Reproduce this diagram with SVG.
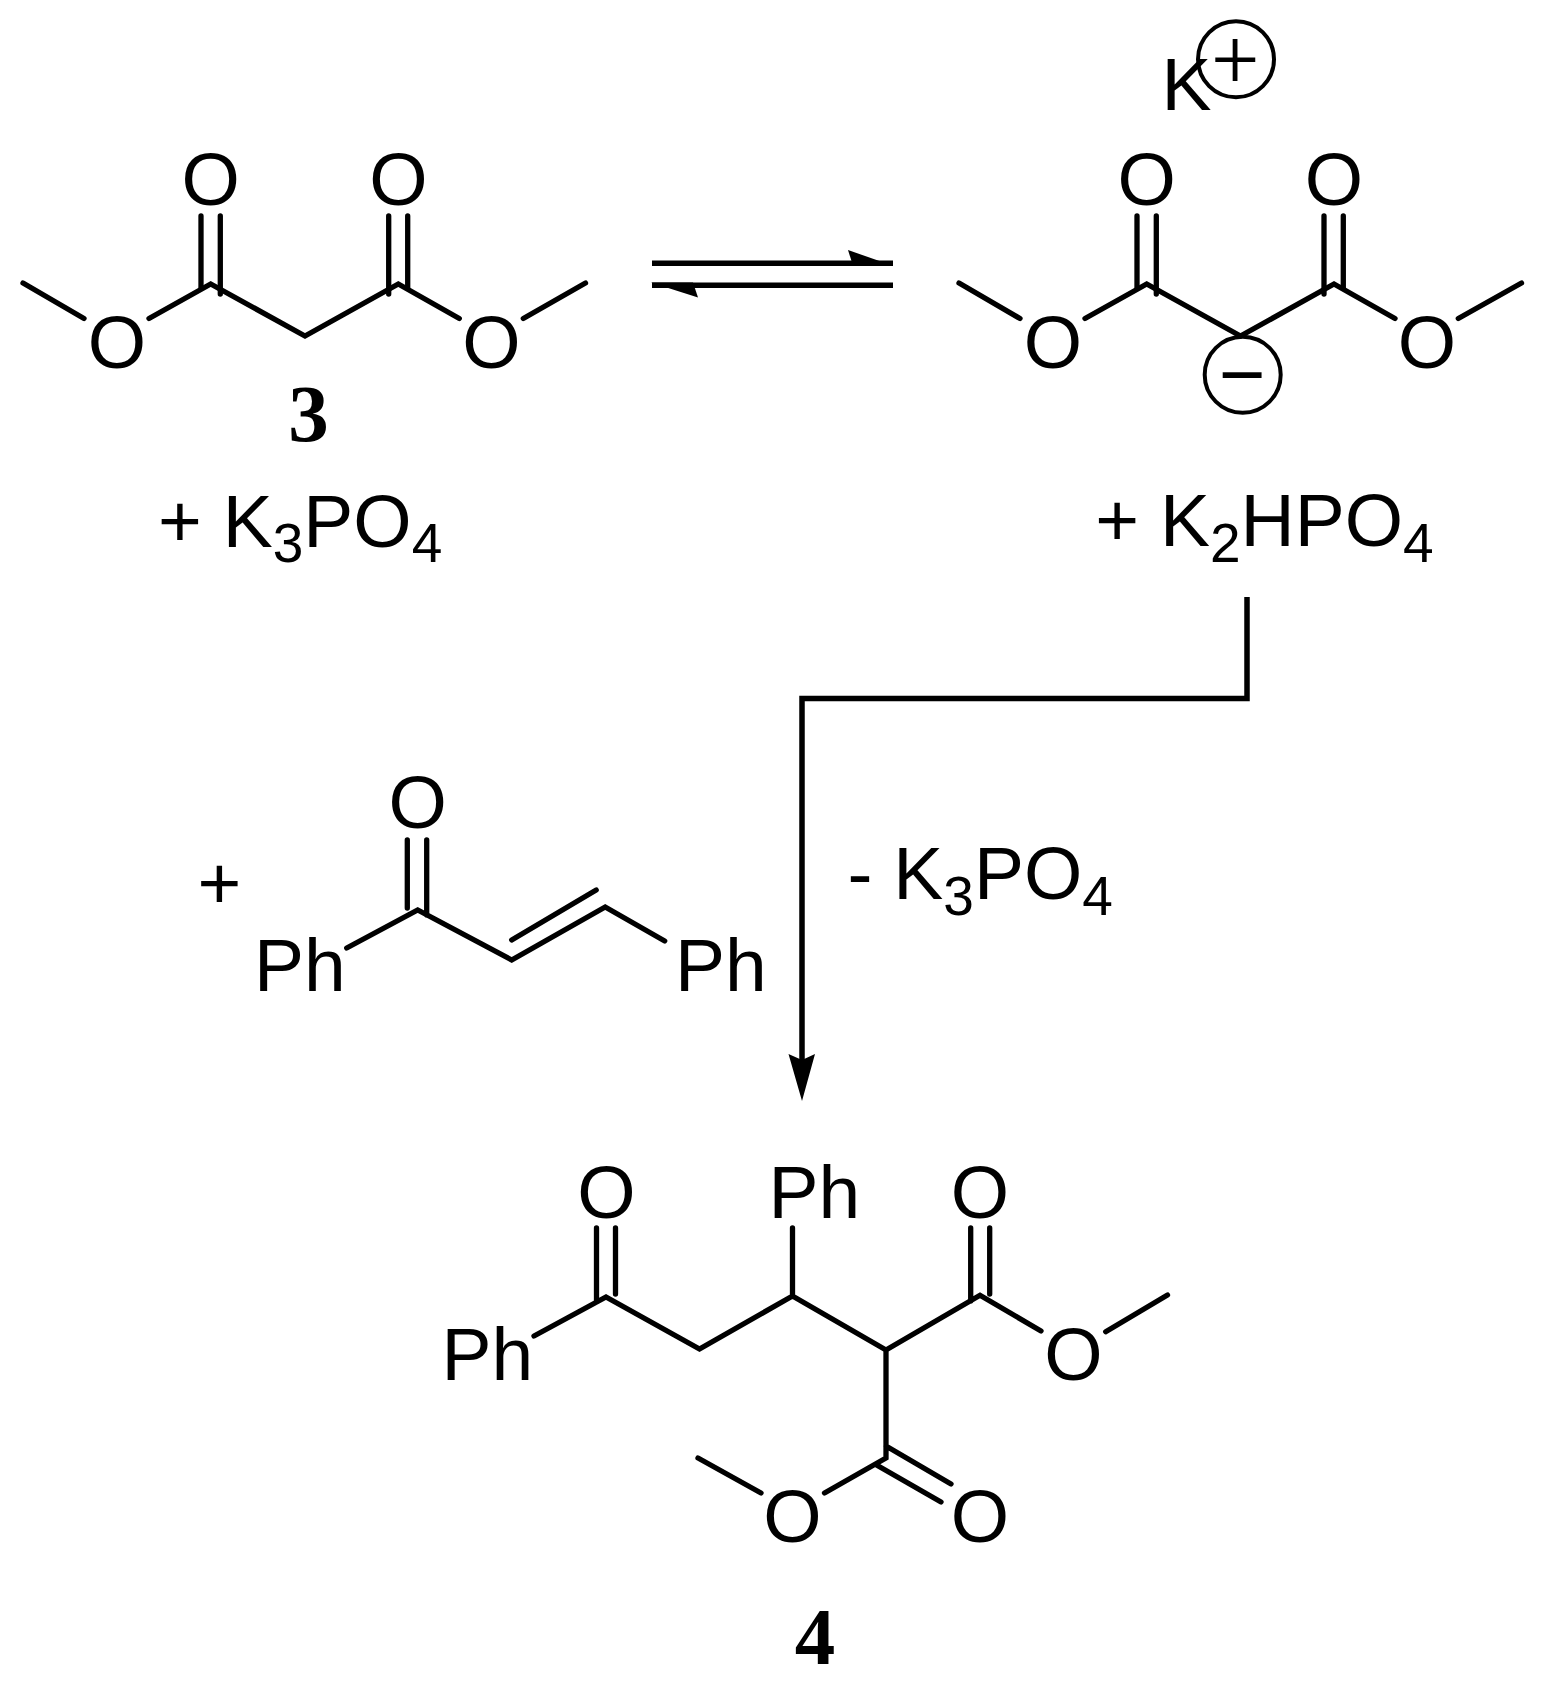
<svg xmlns="http://www.w3.org/2000/svg" width="1542" height="1687" viewBox="0 0 1542 1687">
<style>
.b{fill:none;stroke:#000;stroke-width:5.3;stroke-linecap:round;stroke-linejoin:miter}
.c{fill:none;stroke:#000;stroke-width:5.5;stroke-linejoin:miter}
.r{fill:none;stroke:#000;stroke-width:4}
.h{fill:#000;stroke:none}
text{font-family:"Liberation Sans",Arial,sans-serif;font-size:75px;fill:#000}
.m{text-anchor:middle}
.s{font-size:55px}
.n{font-family:"Liberation Serif","Times New Roman",serif;font-size:81px;font-weight:bold;text-anchor:middle}
</style>
<rect width="1542" height="1687" fill="#fff"/>
<g id="connectors">
<path class="c" d="M652 263.3H893"/>
<polygon class="h" points="893,265.8 848,250 853,265.8"/>
<path class="c" d="M652 285.3H893"/>
<polygon class="h" points="651,282.6 698,297.5 693,282.6"/>
<path class="c" d="M1247 597V698.5H802V1060"/>
<polygon class="h" points="802,1101 788.5,1054 802,1060 815,1054"/>
</g>
<g id="compound-3">
<path class="b" d="M23 283L84 318.5M149 318.5L210.7 284L305 336L398.3 284L459.3 318.5M523.3 318.5L585.5 283"/>
<path class="b" d="M201 216V288M220.3 216V294M388.7 216V294M407.7 216V288"/>
<text class="m" x="210.7" y="204.8">O</text>
<text class="m" x="398.3" y="204.8">O</text>
<text class="m" x="117" y="367.8">O</text>
<text class="m" x="491.5" y="367.8">O</text>
<text class="n" x="308.5" y="441">3</text>
</g>
<text id="reagent-k3po4" x="158" y="546.7">+ K<tspan class="s" dy="15.5">3</tspan><tspan dy="-15.5">PO</tspan><tspan class="s" dy="15.5">4</tspan></text>
<g id="enolate">
<path class="b" d="M959 283L1020 318.5M1085 318.5L1146.7 284L1240.5 336L1334 284L1395 318.5M1458.3 318.5L1521.5 283"/>
<path class="b" d="M1137 216V288M1156.3 216V294M1324 216V294M1343.3 216V288"/>
<text class="m" x="1146.7" y="204.8">O</text>
<text class="m" x="1333.8" y="204.8">O</text>
<text class="m" x="1053" y="367.8">O</text>
<text class="m" x="1427" y="367.8">O</text>
<circle class="r" cx="1242.7" cy="374.7" r="38"/>
<text class="m" x="1242.2" y="402" style="font-size:80px">−</text>
</g>
<g id="potassium">
<text x="1161.6" y="110">K</text>
<circle class="r" cx="1236" cy="59.3" r="38"/>
<text class="m" x="1235.5" y="86.7" style="font-size:82px;font-family:Roboto,sans-serif;font-weight:300">+</text>
</g>
<text id="reagent-k2hpo4" x="1095.3" y="546.4">+ K<tspan class="s" dy="15.5">2</tspan><tspan dy="-15.5">HPO</tspan><tspan class="s" dy="15.5">4</tspan></text>
<g id="chalcone">
<text x="197.5" y="909">+</text>
<path class="b" d="M346.7 948L417.7 910L511.7 960L605.2 907L664.7 941M407.3 840V908M426.7 840V915M511.7 940L596.2 890"/>
<text class="m" x="417.7" y="828">O</text>
<text x="254" y="990.7">Ph</text>
<text x="675" y="990.7">Ph</text>
</g>
<text id="minus-k3po4" x="847.5" y="899.3">- K<tspan class="s" dy="15.5">3</tspan><tspan dy="-15.5">PO</tspan><tspan class="s" dy="15.5">4</tspan></text>
<g id="compound-4">
<path class="b" d="M534 1336L606 1297L699.5 1349L792.5 1296L886 1350L980 1295.2L1041 1331M1105.7 1331.7L1167.5 1295M792.5 1296V1228M886 1350V1458L824.5 1493M761 1493L698 1458M596.5 1228V1302M615.5 1228V1294M970.7 1228V1301M989.7 1228V1294M886 1446L951 1484M876.5 1465L941 1502"/>
<text class="m" x="606.5" y="1218">O</text>
<text x="768.6" y="1217.7">Ph</text>
<text class="m" x="980" y="1218">O</text>
<text x="441.5" y="1379.7">Ph</text>
<text class="m" x="1073.3" y="1379.8">O</text>
<text class="m" x="792.5" y="1542">O</text>
<text class="m" x="980" y="1542">O</text>
<text class="n" x="815" y="1664">4</text>
</g>
</svg>
